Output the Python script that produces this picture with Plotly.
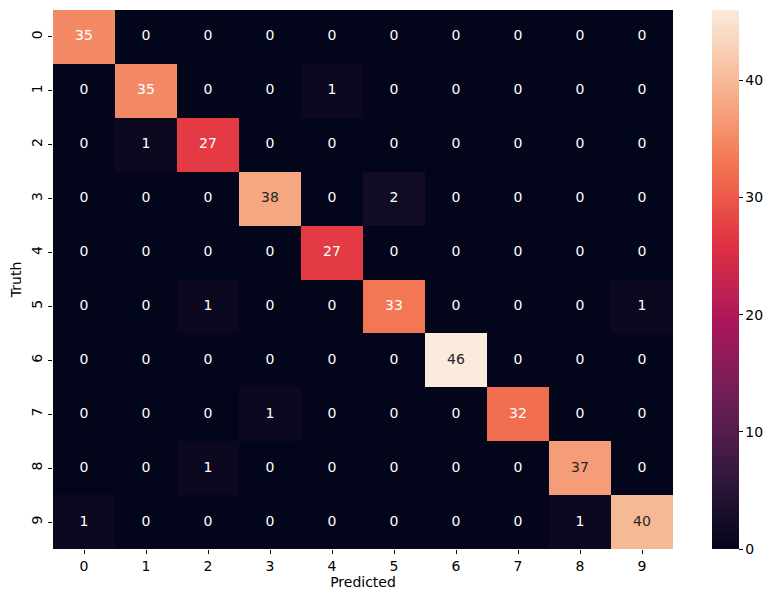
import plotly.graph_objects as go

# confusion matrix values
labels = [str(i) for i in range(10)]
cm = [
    [35, 0, 0, 0, 0, 0, 0, 0, 0, 0],
    [0, 35, 0, 0, 1, 0, 0, 0, 0, 0],
    [0, 1, 27, 0, 0, 0, 0, 0, 0, 0],
    [0, 0, 0, 38, 0, 2, 0, 0, 0, 0],
    [0, 0, 0, 0, 27, 0, 0, 0, 0, 0],
    [0, 0, 1, 0, 0, 33, 0, 0, 0, 1],
    [0, 0, 0, 0, 0, 0, 46, 0, 0, 0],
    [0, 0, 0, 1, 0, 0, 0, 32, 0, 0],
    [0, 0, 1, 0, 0, 0, 0, 0, 37, 0],
    [1, 0, 0, 0, 0, 0, 0, 0, 1, 40],
]
cbar_ticks = [0, 10, 20, 30, 40]

# approximation of seaborn's "rocket" colormap
rocket = [
    [0.0, "#03051a"],
    [1 / 7, "#35193e"],
    [2 / 7, "#701f57"],
    [3 / 7, "#ad1759"],
    [4 / 7, "#e13342"],
    [5 / 7, "#f37651"],
    [6 / 7, "#f6b48f"],
    [1.0, "#faebdd"],
]

FONT = "DejaVu Sans"
FS = 14
vmax = max(max(r) for r in cm)

idx = list(range(10))
fig = go.Figure()
fig.add_trace(go.Heatmap(
    z=cm, x=idx, y=idx,
    colorscale=rocket, zmin=0, zmax=vmax,
    xgap=0, ygap=0, hoverinfo="skip",
    colorbar=dict(
        x=(712 - 53) / 620, xanchor="left", xpad=0,
        y=0.5, len=1, lenmode="fraction", ypad=0,
        thickness=27, outlinewidth=0,
        tickvals=cbar_ticks, ticks="outside", ticklen=4,
        tickcolor="black", tickfont=dict(family=FONT, size=FS, color="black"),
    ),
))

# annotation text; dark text on light cells like seaborn does
xs, ys, txt, cols = [], [], [], []
for r, row in enumerate(cm):
    for c, v in enumerate(row):
        xs.append(c)
        ys.append(r)
        txt.append(str(v))
        cols.append("#262626" if v > 36 else "white")

fig.add_trace(go.Scatter(
    x=xs, y=ys, text=txt, mode="text",
    textfont=dict(family=FONT, size=FS, color=cols),
    hoverinfo="skip", showlegend=False,
))

# page body has an 8px margin, so the figure is shrunk to fit the window
fig.update_layout(
    width=768, height=594,
    margin=dict(l=45, r=103, t=2, b=53),
    plot_bgcolor="white", paper_bgcolor="white",
    font=dict(family=FONT, size=FS, color="black"),
    showlegend=False,
)
fig.update_xaxes(
    range=[-0.5, 9.5], tickvals=idx, ticktext=labels,
    ticks="outside", ticklen=4, tickcolor="black",
    showgrid=False, zeroline=False, showline=False,
    title=dict(text="Predicted", standoff=4, font=dict(size=FS)),
)
fig.update_yaxes(
    range=[9.5, -0.5], tickvals=idx, ticktext=labels, tickangle=-90,
    ticks="outside", ticklen=4, tickcolor="black",
    showgrid=False, zeroline=False, showline=False,
    title=dict(text="Truth", standoff=6, font=dict(size=FS)),
)

fig.write_html("out.html")
